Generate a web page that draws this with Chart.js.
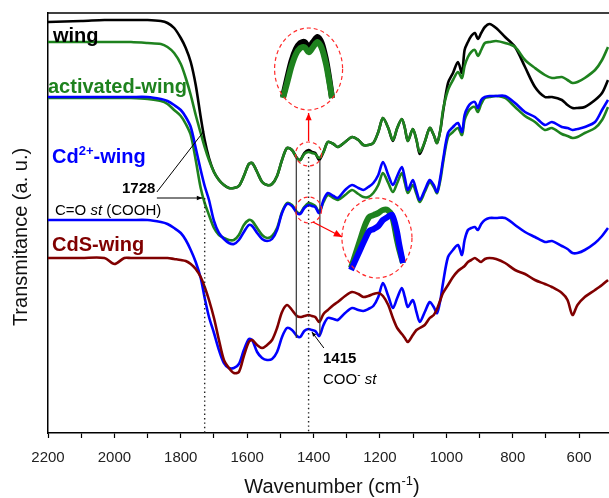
<!DOCTYPE html>
<html>
<head>
<meta charset="utf-8">
<script src="https://cdn.jsdelivr.net/npm/chart.js@4.4.1/dist/chart.umd.min.js"></script>
<style>
  html, body { margin: 0; padding: 0; background: #fff; }
  canvas { display: block; }
</style>
</head>
<body>
<canvas id="ftir" width="609" height="498"></canvas>
<script>
"use strict";

// wavenumber grid (cm-1), shared by every trace
var wavenumber = [2200,2100,2030,2000,1970,1950,1900,1860,1840,1820,
  1800,1785,1770,1755,1740,1728,1715,1700,1685,1670,
  1655,1640,1625,1610,1595,1585,1570,1555,1540,1525,
  1510,1495,1480,1465,1450,1440,1428,1415,1405,1395,
  1383,1370,1357,1340,1327,1305,1284,1265,1250,1235,
  1220,1205,1191,1175,1161,1148,1134,1125,1116,1101,
  1090,1080,1065,1050,1038,1028,1018,1010,995,980,
  965,953,945,935,925,914,905,895,884,870,
  850,823,793,763,733,703,682,652,635,620,
  605,583,552,531,513];

// transmittance, arbitrary units, traces already offset as in the figure
var wing = [411,412,413,413,413,413,413,412,410,405,
  395,385,371,348,316,293,275,261,253,248,
  245,245,247,257,269,270,261,251,248,249,
  257,273,285,283,275,273,280,283,281,280,
  273,281,291,289,286,291,296,293,288,288,
  290,301,315,305,292,305,314,305,292,304,
  293,279,291,305,298,290,303,321,350,360,
  371,360,383,391,397,400,394,400,406,409,
  405,396,386,366,346,336,336,333,328,325,
  325,326,333,340,353];

var activatedWing = [391,391,391,391,391,391,390,389,386,380,
  369,355,338,318,300,286,273,261,253,248,
  245,245,247,257,269,270,261,251,248,249,
  257,273,285,283,275,273,279,281,280,279,
  275,281,291,289,286,291,296,293,288,288,
  290,301,315,305,293,305,314,305,292,304,
  293,281,291,305,298,290,303,323,343,353,
  361,355,367,376,381,383,377,383,390,391,
  392,390,386,373,365,358,355,356,353,350,
  351,355,363,373,386];

// activated-wing repeated next to Cd2+-wing
var activatedWing2 = [335,335,335,335,335,335,334,332,329,323,
  317,309,298,273,245,230,218,205,198,195,
  193,193,198,208,213,212,205,198,195,197,
  205,221,230,228,221,220,226,230,229,227,
  221,231,238,235,233,238,243,239,236,236,
  240,248,260,250,241,250,260,250,240,248,
  239,231,241,251,246,240,253,270,296,301,
  305,298,313,321,325,326,321,329,335,336,
  337,335,326,317,311,303,305,299,297,295,
  296,300,305,313,326];

var cdWing = [336,336,336,336,336,336,336,334,332,328,
  323,316,306,285,263,247,233,212,200,194,
  190,189,193,201,208,207,200,194,192,194,
  203,220,229,227,220,219,225,228,227,226,
  220,233,240,237,235,243,248,245,243,246,
  250,258,271,258,248,257,266,255,243,253,
  242,233,243,253,248,241,256,273,300,306,
  310,301,318,326,330,331,325,333,336,337,
  337,337,330,321,316,308,311,306,305,303,
  304,306,311,323,333];

// Cd2+-wing repeated next to CdS-wing
var cdWing2 = [213,213,213,213,213,213,213,211,209,205,
  200,193,183,171,155,135,116,100,83,70,
  65,65,69,83,94,93,81,75,73,74,
  81,96,105,103,97,96,102,104,103,102,
  97,108,115,114,113,120,125,123,122,124,
  127,136,150,137,125,135,145,136,126,133,
  121,111,121,131,126,120,133,150,176,183,
  188,178,193,203,205,206,203,209,213,215,
  215,215,208,201,196,191,192,187,184,180,
  180,183,190,197,205];

var cdsWing = [175,175,175,169,175,175,175,175,175,174,
  173,172,169,164,156,146,133,115,93,73,
  65,60,61,77,91,93,88,85,88,93,
  105,121,128,123,117,116,117,118,117,116,
  111,119,123,128,131,137,141,139,136,137,
  139,140,137,128,115,105,99,95,91,98,
  103,105,108,115,118,124,133,140,148,156,
  162,165,167,171,173,175,173,171,174,175,
  174,170,163,159,153,149,146,140,133,118,
  128,136,143,148,153];

// magnified COO- band (insets)
var insetWn = [1440,1435,1430,1425,1420,1415,1410,1405,1400,1395,1390,1387,1383];
var insetWing = [273.2,276.9,280.3,282.6,283.8,284.0,283.0,284.0,285.0,283.8,280.5,277.6,273.0];
var insetActivated = [273.0,276.1,279.3,281.6,282.8,283.0,282.0,283.0,284.0,282.8,279.7,277.0,273.0];
var insetActivated2 = [220.0,222.8,225.6,228.4,230.2,230.6,231.0,231.6,231.6,230.4,226.0,223.6,221.0];
var insetCd = [219.6,221.6,223.6,225.6,227.4,227.8,228.4,229.6,230.2,230.6,227.6,224.6,221.0];

var tickLabels = [2200,2000,1800,1600,1400,1200,1000,800,600];
var minorTicks = [2100,1900,1700,1500,1300,1100,900,700];
var bandEdges = [1452, 1381];
var peakMarks = [1728, 1415];

var FONT = '"Liberation Sans", Arial, sans-serif';
var GREEN = '#1e821e', BLUE = '#0000ff', WINE = '#800000';

// plot area is fixed by the layout below
var CA = {left: 48, top: 13, width: 561, height: 420};

// scale range so that value v0 lands on pixel p0 and v1 on p1
function fitRange(v0, p0, v1, p1, start, size) {
  var s = (p1 - p0) / (v0 - v1);
  var max = v0 + (p0 - start) / s;
  return {min: max - size / s, max: max};
}

function pts(xs, ys) {
  return xs.map(function (w, i) { return {x: w, y: ys[i]}; });
}

function trace(data, color) {
  return {data: pts(wavenumber, data), borderColor: color, borderWidth: 2.6,
    pointRadius: 0, tension: 0.3, fill: false};
}

function inset(data, color, xid, yid) {
  return {data: pts(insetWn, data), borderColor: color, borderWidth: 6,
    pointRadius: 0, tension: 0.3, fill: false, xAxisID: xid, yAxisID: yid,
    borderCapStyle: 'butt'};
}

function rich(ctx, x, y, parts, align) {
  var w = 0;
  parts.forEach(function (p) { ctx.font = p.f; w += ctx.measureText(p.t).width; });
  var cx = align === 'center' ? x - w / 2 : x;
  parts.forEach(function (p) {
    ctx.font = p.f;
    ctx.fillStyle = p.c || '#000';
    ctx.fillText(p.t, cx, y + (p.dy || 0));
    cx += ctx.measureText(p.t).width;
  });
}

function arrow(ctx, x0, y0, x1, y1, color, head) {
  var a = Math.atan2(y1 - y0, x1 - x0);
  ctx.strokeStyle = color; ctx.fillStyle = color;
  ctx.beginPath(); ctx.moveTo(x0, y0); ctx.lineTo(x1, y1); ctx.stroke();
  if (!head) return;
  ctx.beginPath();
  ctx.moveTo(x1, y1);
  ctx.lineTo(x1 - head * Math.cos(a - 0.4), y1 - head * Math.sin(a - 0.4));
  ctx.lineTo(x1 - head * Math.cos(a + 0.4), y1 - head * Math.sin(a + 0.4));
  ctx.closePath(); ctx.fill();
}

var notes = {
  id: 'notes',
  afterDatasetsDraw: function (chart) {
    var ctx = chart.ctx, ca = chart.chartArea;
    var X = function (w) { return chart.scales.x.getPixelForValue(w); };
    var Y = function (v) { return chart.scales.y.getPixelForValue(v); };
    ctx.save();

    // top frame line
    ctx.strokeStyle = '#000'; ctx.lineWidth = 1.5;
    ctx.beginPath(); ctx.moveTo(ca.left, ca.top); ctx.lineTo(ca.right, ca.top); ctx.stroke();

    // dotted guide lines at 1728 and 1415
    ctx.lineWidth = 1.4; ctx.setLineDash([1.4, 3]); ctx.strokeStyle = '#222';
    ctx.beginPath(); ctx.moveTo(X(peakMarks[0]), Y(235)); ctx.lineTo(X(peakMarks[0]), ca.bottom); ctx.stroke();
    ctx.beginPath(); ctx.moveTo(X(peakMarks[1]), Y(276)); ctx.lineTo(X(peakMarks[1]), ca.bottom); ctx.stroke();
    ctx.setLineDash([]);

    // band edges
    ctx.lineWidth = 1.2; ctx.strokeStyle = '#333';
    ctx.beginPath(); ctx.moveTo(X(bandEdges[0]), Y(277)); ctx.lineTo(X(bandEdges[0]), Y(95)); ctx.stroke();
    ctx.beginPath(); ctx.moveTo(X(bandEdges[1]), Y(273)); ctx.lineTo(X(bandEdges[1]), Y(98)); ctx.stroke();

    // dashed red circles and ellipses
    ctx.strokeStyle = '#ff2a2a'; ctx.lineWidth = 1.2; ctx.setLineDash([4, 3]);
    [[1415, 279, 13, 12], [1415, 223, 13, 13], [1415, 364, 34, 41], [1209, 195, 35, 40]].forEach(function (e) {
      ctx.beginPath(); ctx.ellipse(X(e[0]), Y(e[1]), e[2], e[3], 0, 0, Math.PI * 2); ctx.stroke();
    });
    ctx.setLineDash([]);

    // red arrows to the insets
    ctx.lineWidth = 1.3;
    arrow(ctx, X(1415), Y(292), X(1415), Y(320), '#ff0000', 8);
    arrow(ctx, X(1402), Y(211), X(1314), Y(196), '#ff0000', 9);

    // black pointers
    ctx.lineWidth = 1;
    arrow(ctx, X(1872), Y(241), X(1730), Y(302), '#000', 0);
    arrow(ctx, X(1872), Y(235), X(1735), Y(235), '#000', 6);
    arrow(ctx, X(1369), Y(85), X(1405), Y(101), '#000', 5);

    // series labels
    ctx.textBaseline = 'alphabetic';
    var B20 = 'bold 20px ' + FONT;
    rich(ctx, 53, 42, [{t: 'wing', f: B20, c: '#000'}]);
    rich(ctx, 48, 93, [{t: 'activated-wing', f: B20, c: GREEN}]);
    rich(ctx, 52, 163, [{t: 'Cd', f: B20, c: BLUE}, {t: '2+', f: 'bold 13px ' + FONT, c: BLUE, dy: -8},
      {t: '-wing', f: B20, c: BLUE}]);
    rich(ctx, 52, 251, [{t: 'CdS-wing', f: B20, c: WINE}]);

    // band annotations
    var R15 = '15px ' + FONT, I15 = 'italic 15px ' + FONT;
    rich(ctx, 122, 193, [{t: '1728', f: 'bold 15px ' + FONT}]);
    rich(ctx, 55, 215, [{t: 'C=O ', f: R15}, {t: 'st', f: I15}, {t: ' (COOH)', f: R15}]);
    rich(ctx, 323, 363, [{t: '1415', f: 'bold 15px ' + FONT}]);
    rich(ctx, 323, 384, [{t: 'COO', f: R15}, {t: '-', f: '10px ' + FONT, dy: -6}, {t: ' st', f: I15}]);

    // axis titles
    var R20 = '20px ' + FONT;
    rich(ctx, 332, 493, [{t: 'Wavenumber (cm', f: R20, c: '#111'}, {t: '-1', f: '13px ' + FONT, c: '#111', dy: -8},
      {t: ')', f: R20, c: '#111'}], 'center');
    ctx.translate(27, 237);
    ctx.rotate(-Math.PI / 2);
    rich(ctx, 0, 0, [{t: 'Transmitance (a. u.)', f: R20, c: '#111'}], 'center');

    ctx.restore();
  }
};

var topX = fitRange(1440, 283, 1383, 332, CA.left, CA.width);
var topY = fitRange(273, 98, 284, 42, CA.top, CA.height);
var botX = fitRange(1440, 351, 1383, 403, CA.left, CA.width);
var botY = fitRange(220, 268, 231.6, 210, CA.top, CA.height);

var ctx = document.getElementById("ftir");
var ftirChart = new Chart(ctx, {
  type: 'line',
  data: {
    datasets: [
      inset(insetActivated, GREEN, 'xa', 'ya'),
      inset(insetWing, '#000', 'xa', 'ya'),
      inset(insetCd, BLUE, 'xb', 'yb'),
      inset(insetActivated2, GREEN, 'xb', 'yb'),
      trace(activatedWing, GREEN),
      trace(wing, '#000'),
      trace(cdWing, BLUE),
      trace(activatedWing2, GREEN),
      trace(cdsWing, WINE),
      trace(cdWing2, BLUE)
    ]
  },
  options: {
    responsive: false,
    animation: false,
    layout: {padding: {top: 13, right: 0, left: 0, bottom: 0}},
    plugins: {legend: {display: false}, tooltip: {enabled: false}},
    scales: {
      x: {
        type: 'linear', reverse: true, min: 510, max: 2200,
        afterBuildTicks: function (s) {
          s.ticks = tickLabels.concat(minorTicks).sort(function (a, b) { return a - b; })
            .map(function (v) { return {value: v}; });
        },
        afterFit: function (s) { s.height = 65; s.paddingLeft = 0; s.paddingRight = 0; },
        border: {color: '#000', width: 1.5},
        grid: {drawOnChartArea: false, tickLength: 5, tickColor: '#000', tickWidth: 1.2},
        ticks: {
          autoSkip: false, maxRotation: 0, minRotation: 0,
          padding: 11, color: '#222', font: {family: FONT, size: 15},
          callback: function (v) { return tickLabels.indexOf(v) >= 0 ? String(v) : ''; }
        }
      },
      y: {
        type: 'linear', min: 0, max: 420,
        afterFit: function (s) { s.width = 48; s.paddingTop = 0; s.paddingBottom = 0; },
        border: {color: '#000', width: 1.5},
        grid: {drawOnChartArea: false, drawTicks: false},
        ticks: {display: false}
      },
      xa: {type: 'linear', axis: 'x', display: false, reverse: true, min: topX.min, max: topX.max},
      ya: {type: 'linear', axis: 'y', display: false, min: topY.min, max: topY.max},
      xb: {type: 'linear', axis: 'x', display: false, reverse: true, min: botX.min, max: botX.max},
      yb: {type: 'linear', axis: 'y', display: false, min: botY.min, max: botY.max}
    }
  },
  plugins: [notes]
});
</script>
</body>
</html>
